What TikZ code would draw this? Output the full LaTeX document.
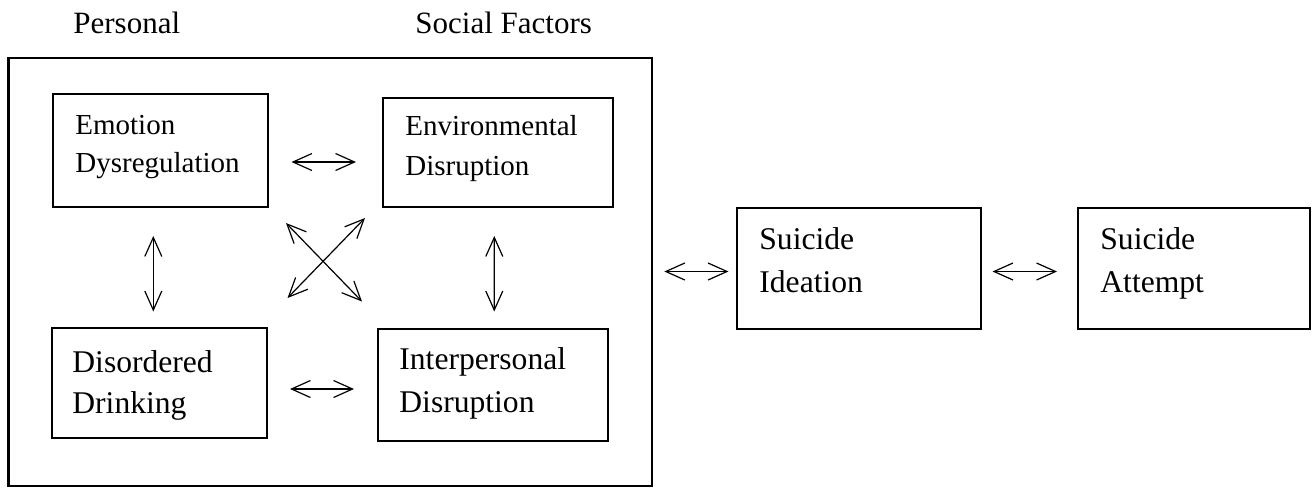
\documentclass[tikz,border=0pt]{standalone}
\usepackage{fontspec}
\setmainfont{Liberation Serif}
\usetikzlibrary{arrows.meta,calc,fit}
\begin{document}
\begin{tikzpicture}[x=0.5pt,y=-0.5pt,
  outerbox/.style={draw, line width=1.35pt, inner sep=0pt},
  box/.style={draw, line width=1pt, inner sep=0pt},
  arr/.style={line width=0.6pt, {Straight Barb[length=9.5pt,width=8.5pt]}-{Straight Barb[length=9.5pt,width=8.5pt]}},
  lblA/.style={anchor=base west, inner sep=0pt, font=\fontsize{14.5}{17}\selectfont},
  lblB/.style={anchor=base west, inner sep=0pt, font=\fontsize{15.8}{19}\selectfont},
  head/.style={anchor=base west, inner sep=0pt, font=\fontsize{15.5}{18}\selectfont}]
\useasboundingbox (0,0) rectangle (1312,489);
% headings
\node[head] (hp) at (73,33) {Personal};
\node[head] (hs) at (415,33) {Social Factors};
% boxes
\node[outerbox, fit={(8.5,58) (652,486)}] (outer) {};
\node[box, fit={(53,94) (268,207)}] (emo) {};
\node[box, fit={(383,98) (613,207)}] (env) {};
\node[box, fit={(52,328) (267,438)}] (dis) {};
\node[box, fit={(377.5,329) (608,441)}] (int) {};
\node[box, fit={(737,208) (981,329)}] (ide) {};
\node[box, fit={(1078,208) (1310,329)}] (att) {};
% texts
\node[lblA] (t1) at (75,134) {Emotion};
\node[lblA] (t2) at (75,172) {Dysregulation};
\node[lblA] (t3) at (405,135) {Environmental};
\node[lblA] (t4) at (405,175) {Disruption};
\node[lblB] (t5) at (72,372) {Disordered};
\node[lblB] (t6) at (72,413) {Drinking};
\node[lblB] (t7) at (399,369) {Interpersonal};
\node[lblB] (t8) at (399,412) {Disruption};
\node[lblB] (t9) at (759,249) {Suicide};
\node[lblB] (t10) at (759,292) {Ideation};
\node[lblB] (t11) at (1100,249) {Suicide};
\node[lblB] (t12) at (1100,292) {Attempt};
% arrows
\draw[arr] ($(emo.east)+(22.5,11.5)$) -- ($(env.west)+(-26,9.5)$);
\draw[arr] ($(dis.east)+(22,6)$) -- ($(int.west)+(-22.5,4)$);
\draw[arr] ($(emo.south)+(-7.2,28)$) -- ($(dis.north)+(-6.2,-15.5)$);
\draw[arr] ($(env.south)+(-3.7,28)$) -- ($(int.north)+(1.5,-16.5)$);
\draw[arr] ($(emo.south east)+(17,15)$) -- ($(int.north west)+(-14.5,-26.5)$);
\draw[arr] ($(dis.north east)+(19.5,-29)$) -- ($(env.south west)+(-17,10)$);
\draw[arr] ($(outer.east)+(11,-0.5)$) -- ($(ide.west)+(-7.5,3)$);
\draw[arr] ($(ide.east)+(10.5,3)$) -- ($(att.west)+(-20,3)$);
\end{tikzpicture}
\end{document}
